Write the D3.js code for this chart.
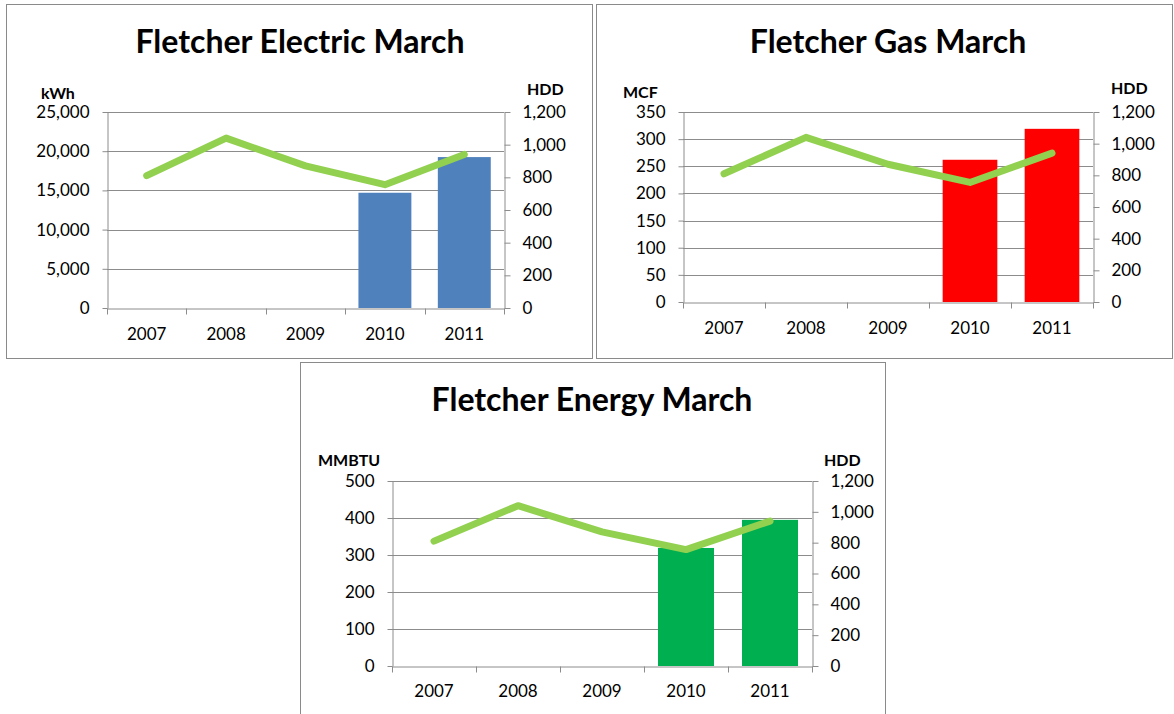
<!DOCTYPE html>
<html><head><meta charset="utf-8">
<script src="https://cdn.jsdelivr.net/npm/d3@7"></script>
<style>
html,body{margin:0;padding:0;background:#fff;}
svg{display:block;font-family:Lato, "Open Sans", sans-serif;}
</style></head>
<body>
<svg id="chart" width="1174" height="714"></svg>
<script>
const years = ["2007","2008","2009","2010","2011"];
const hdd = [810, 1040, 870, 755, 940];
const electricKwh = [null, null, null, 14700, 19250];
const gasMcf = [null, null, null, 262, 319];
const energyMmbtu = [null, null, null, 319, 395];
const electricTicks = [0, 5000, 10000, 15000, 20000, 25000];
const gasTicks = [0, 50, 100, 150, 200, 250, 300, 350];
const energyTicks = [0, 100, 200, 300, 400, 500];
const hddTicks = [0, 200, 400, 600, 800, 1000, 1200];

const svg = d3.select("#chart");
const fmt = d3.format(",");
const gridColor = "#8c8c8c";

function panel(cfg){
  const g = svg.append("g");
  g.append("rect").attr("x", cfg.box[0]+0.5).attr("y", cfg.box[1]+0.5)
    .attr("width", cfg.box[2]).attr("height", cfg.box[3])
    .attr("fill", "#fff").attr("stroke", "#8a8a8a").attr("stroke-width", 1);
  g.append("text").attr("x", cfg.titleX).attr("y", cfg.titleY)
    .attr("text-anchor", "middle").attr("dominant-baseline", "central")
    .attr("font-size", 32).attr("font-weight", 700).attr("fill", "#000")
    .text(cfg.title);

  const [x0, x1, y0, y1] = cfg.plot; // left, right, top, bottom
  const x = d3.scaleBand().domain(years).range([x0, x1]).paddingInner(0).paddingOuter(0);
  const yL = d3.scaleLinear().domain([0, cfg.ticks[cfg.ticks.length-1]]).range([y1, y0]);
  const yR = d3.scaleLinear().domain([0, 1200]).range([y1, y0]);

  // gridlines
  g.append("g").selectAll("line").data(cfg.ticks.slice(1)).join("line")
    .attr("x1", x0).attr("x2", x1)
    .attr("y1", d => Math.round(yL(d))+0.5).attr("y2", d => Math.round(yL(d))+0.5)
    .attr("stroke", gridColor).attr("stroke-width", 1);

  // bars
  const bw = x.bandwidth()/1.5;
  g.append("g").selectAll("rect").data(years.map((yr,i)=>({yr, v: cfg.values[i]})).filter(d=>d.v!=null))
    .join("rect")
    .attr("x", d => x(d.yr) + (x.bandwidth()-bw)/2)
    .attr("width", bw)
    .attr("y", d => yL(d.v))
    .attr("height", d => yL(0) - yL(d.v))
    .attr("fill", cfg.color);

  // left axis
  const axL = d3.axisLeft(yL).tickValues(cfg.ticks).tickFormat(fmt).tickSizeInner(5).tickSizeOuter(0).tickPadding(13);
  const gl = g.append("g").attr("transform", `translate(${Math.round(x0)+0.5},0)`).call(axL);
  // right axis
  const axR = d3.axisRight(yR).tickValues(hddTicks).tickFormat(fmt).tickSizeInner(6).tickSizeOuter(0).tickPadding(12);
  const gr = g.append("g").attr("transform", `translate(${Math.round(x1)+0.5},0)`).call(axR);
  // bottom axis
  const axB = d3.axisBottom(x).tickSize(0);
  const gb = g.append("g").attr("transform", `translate(0,${Math.round(y1)+0.5})`).call(axB);
  gb.selectAll(".tick text").attr("dy", null).attr("y", cfg.xlabOff).attr("dominant-baseline", "central");
  gb.append("g").selectAll("line").data(years.concat(["end"])).join("line")
    .attr("x1", (d,i) => Math.round(i < years.length ? x(d) : x1)+0.5)
    .attr("x2", (d,i) => Math.round(i < years.length ? x(d) : x1)+0.5)
    .attr("y1", 0).attr("y2", 6).attr("stroke", gridColor);
  [gl, gr, gb].forEach(a => {
    a.select(".domain").attr("stroke", gridColor);
    a.selectAll(".tick line").attr("stroke", gridColor);
    a.selectAll("text").attr("font-size", 17).attr("fill", "#000").attr("font-family", "Lato, sans-serif");
  });

  // HDD line
  const line = d3.line().x((d,i) => x(years[i]) + x.bandwidth()/2).y(d => yR(d));
  g.append("path").datum(hdd).attr("d", line).attr("fill", "none")
    .attr("stroke", "#92D050").attr("stroke-width", 7).attr("stroke-linecap", "round").attr("stroke-linejoin", "round");

  // unit labels
  g.append("text").attr("x", cfg.unitL[0]).attr("y", cfg.unitL[1]).attr("dominant-baseline", "central")
    .attr("font-size", 16).attr("font-weight", 700).text(cfg.unit);
  g.append("text").attr("x", cfg.unitR[0]).attr("y", cfg.unitR[1]).attr("dominant-baseline", "central")
    .attr("font-size", 16).attr("font-weight", 700).text("HDD");
}

panel({box:[6,4,586,354], title:"Fletcher Electric March", titleX:300, titleY:40,
  plot:[107,504,112,308], ticks:electricTicks, values:electricKwh, color:"#4F81BD",
  unit:"kWh", unitL:[41,92], unitR:[527,88], xlabOff:25});
panel({box:[596,4,576,354], title:"Fletcher Gas March", titleX:888, titleY:40,
  plot:[683,1093,112,302], ticks:gasTicks, values:gasMcf, color:"#FF0000",
  unit:"MCF", unitL:[623,91], unitR:[1111,87], xlabOff:25});
panel({box:[300,362,585,360], title:"Fletcher Energy March", titleX:592, titleY:398,
  plot:[392,812,481,666], ticks:energyTicks, values:energyMmbtu, color:"#00B050",
  unit:"MMBTU", unitL:[318,459], unitR:[824,459], xlabOff:24});
</script>
</body></html>
